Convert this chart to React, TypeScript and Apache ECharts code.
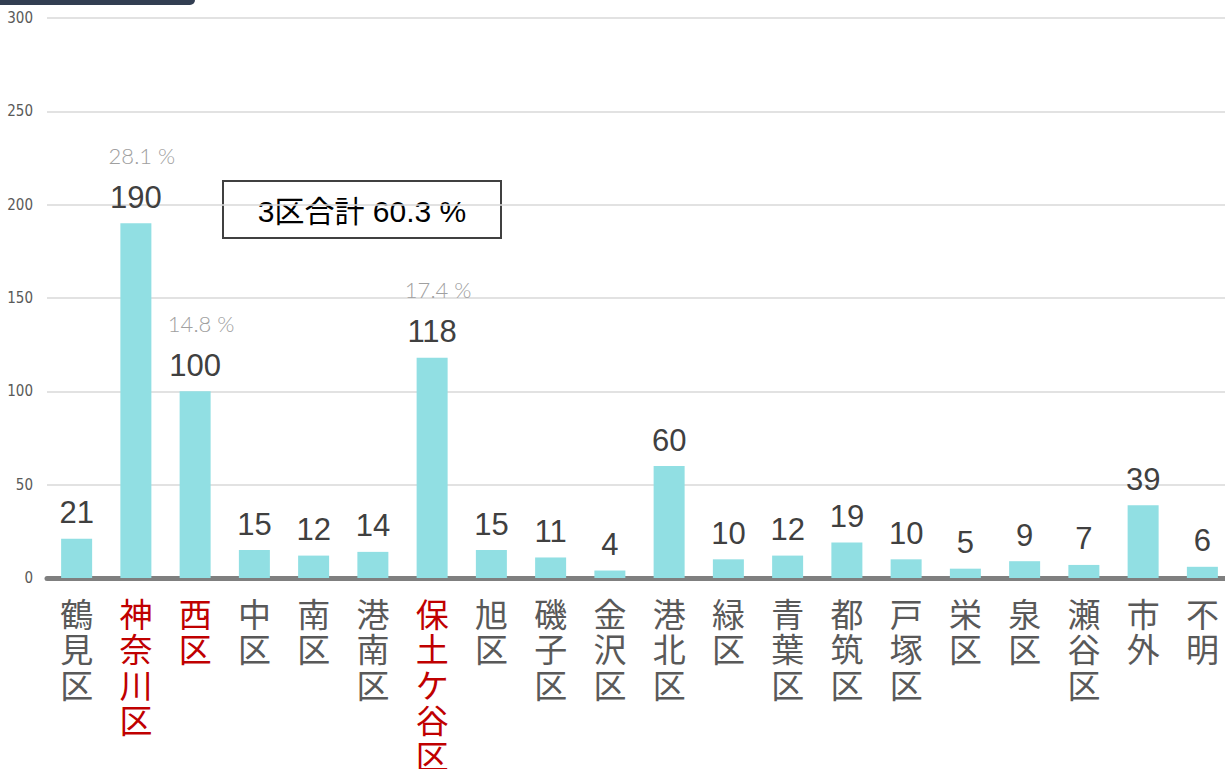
import React, { useEffect, useRef } from "react";
import * as echarts from "echarts";

const categories = ["鶴見区", "神奈川区", "西区", "中区", "南区", "港南区", "保土ケ谷区", "旭区", "磯子区", "金沢区", "港北区", "緑区", "青葉区", "都筑区", "戸塚区", "栄区", "泉区", "瀬谷区", "市外", "不明"];
const values = [21, 190, 100, 15, 12, 14, 118, 15, 11, 4, 60, 10, 12, 19, 10, 5, 9, 7, 39, 6];
const percentLabels: Record<string, string> = { "神奈川区": "28.1", "西区": "14.8", "保土ケ谷区": "17.4" };
const highlighted = ["神奈川区", "西区", "保土ケ谷区"];
const yTicks = { min: 0, max: 300, interval: 50 };
const noteText = "3区合計 60.3 %";

export default function App() {
  const ref = useRef<HTMLDivElement>(null);
  useEffect(() => {
    if (!ref.current) return;
    const chart = echarts.init(ref.current, null, { renderer: "svg" });
    chart.setOption({
      animation: false,
      grid: { left: 47, top: 18, width: 1185, bottom: 191, containLabel: false, outerBoundsMode: "none" },
      xAxis: {
        type: "category",
        data: categories,
        axisTick: { show: false },
        axisLine: { lineStyle: { color: "#7f7f7f", width: 5 } },
        axisLabel: {
          interval: 0,
          margin: 17,
          fontSize: 33,
          lineHeight: 35.5,
          fontFamily: "Noto Sans CJK JP",
          color: (v: string) => (highlighted.includes(v) ? "#c00000" : "#595959"),
          formatter: (v: string) => v.split("").join("\n"),
        },
      },
      yAxis: {
        type: "value",
        min: yTicks.min,
        max: yTicks.max,
        interval: yTicks.interval,
        axisLine: { show: false },
        axisTick: { show: false },
        axisLabel: { margin: 14, fontSize: 15, color: "#595959", fontFamily: "Liberation Sans Narrow, DejaVu Sans Condensed, sans-serif" },
        splitLine: { lineStyle: { color: "#d9d9d9", width: 1.5 } },
      },
      series: [
        {
          type: "bar",
          barWidth: 31,
          itemStyle: { color: "#91dfe3" },
          data: values.map((v, i) => ({ value: v, name: categories[i] })),
          label: {
            show: true,
            position: "top",
            distance: 10,
            color: "#404040",
            fontSize: 31,
            fontFamily: "Liberation Sans",
            formatter: (p: any) => {
              const pc = percentLabels[p.name];
              return pc ? `{p|${pc} %}\n{v|${p.value}}` : `{v|${p.value}}`;
            },
            rich: {
              v: { fontSize: 31, color: "#404040", fontFamily: "Liberation Sans", lineHeight: 32 },
              p: { fontSize: 22, color: "#a0a0a0", fontFamily: "Lato", fontWeight: 300, lineHeight: 52, padding: [0, 0, 0, 12] },
            },
          },
        },
      ],
      graphic: [
        { type: "rect", left: 0, top: 0, shape: { width: 195, height: 5, r: [0, 0, 6, 0] }, style: { fill: "#323e52" } },
        {
          type: "group",
          left: 222,
          top: 180,
          children: [
            { type: "rect", shape: { x: 0, y: 0, width: 278, height: 57 }, style: { fill: "#fff", stroke: "#404040", lineWidth: 2 } },
            { type: "text", x: 139, y: 30, style: { text: noteText, fontSize: 30, fill: "#000", fontFamily: "Liberation Sans, Noto Sans CJK JP", align: "center", verticalAlign: "middle" } },
          ],
        },
      ],
    });
    return () => chart.dispose();
  }, []);
  return <div ref={ref} style={{ width: 1225, height: 769, position: "absolute", left: 0, top: 0 }} />;
}
